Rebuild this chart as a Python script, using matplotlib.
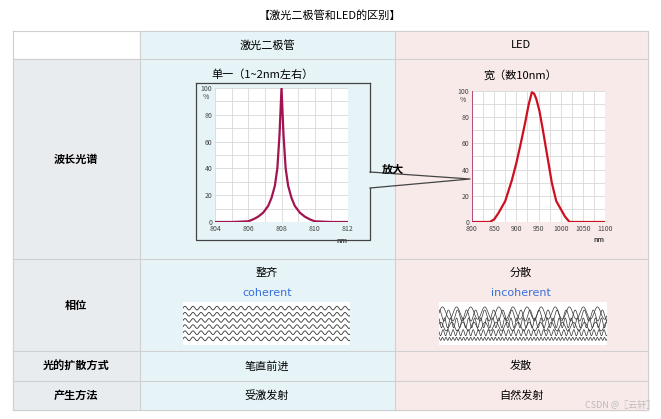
import numpy as np
import matplotlib.pyplot as plt
from matplotlib import font_manager as fm
from matplotlib.patches import Rectangle

# make sure a CJK font is registered
cjk = 'Noto Sans CJK SC'
for f in fm.findSystemFonts():
    if 'CJK' in f or 'cjk' in f.lower():
        try:
            fm.fontManager.addfont(f)
        except Exception:
            pass
names = {x.name for x in fm.fontManager.ttflist}
if cjk not in names:
    cands = [n for n in names if 'CJK' in n]
    if cands:
        cjk = sorted(cands)[0]
plt.rcParams['font.family'] = [cjk, 'DejaVu Sans']

# spectrum data
ld_nm = [804, 805, 806, 806.3, 806.6, 806.9, 807.2, 807.4, 807.6, 807.75, 807.88, 808,
         808.12, 808.25, 808.4, 808.6, 808.8, 809.1, 809.4, 809.7, 810, 811, 812]
ld_pct = [0, 0, 0.5, 2, 4, 7, 12, 18, 27, 40, 65, 100,
          65, 40, 27, 18, 12, 7, 4, 2, 0.5, 0, 0]
led_nm = [800, 840, 850, 860, 875, 890, 900, 910, 920, 928, 935, 940, 945, 952, 960,
          970, 980, 990, 1000, 1010, 1020, 1100]
led_pct = [0, 0, 2, 7, 16, 32, 45, 60, 76, 90, 99, 98, 94, 85, 70,
           50, 30, 16, 10, 4, 0, 0]
ld_ticks = [804, 806, 808, 810, 812]
led_ticks = [800, 850, 900, 950, 1000, 1050, 1100]
row_labels = ['波长光谱', '相位', '光的扩散方式', '产生方法']
ld_texts = ['笔直前进', '受激发射']
led_texts = ['发散', '自然发射']

W, H = 661, 419
fig = plt.figure(figsize=(W / 100, H / 100), dpi=100)
bg = fig.add_axes([0, 0, 1, 1])
bg.set_xlim(0, W)
bg.set_ylim(H, 0)
bg.axis('off')

def px_axes(x, y, w, h):
    return fig.add_axes([x / W, 1 - (y + h) / H, w / W, h / H])

# table
cols = [13, 140, 395, 648]
rows = [31, 59, 259, 351, 381, 410]
bg.add_patch(Rectangle((13, 59), 127, 351, color='#e9ecef'))
bg.add_patch(Rectangle((140, 31), 255, 379, color='#e6f4f8'))
bg.add_patch(Rectangle((395, 31), 253, 379, color='#f9eaea'))
for y in rows:
    bg.plot([13, 648], [y, y], color='#d0d0d0', lw=0.8)
for x in cols:
    bg.plot([x, x], [31, 410], color='#d0d0d0', lw=0.8)

bg.text(330, 15, '【激光二极管和LED的区别】', ha='center', va='center', fontsize=8)
bg.text(267, 45, '激光二极管', ha='center', va='center', fontsize=8)
bg.text(521, 45, 'LED', ha='center', va='center', fontsize=8)
for i, lab in enumerate(row_labels):
    yc = (rows[i + 1] + rows[i + 2]) / 2
    bg.text(76, yc, lab, ha='center', va='center', fontsize=8, fontweight='bold')
for i in range(2):
    yc = (rows[i + 3] + rows[i + 4]) / 2
    bg.text(267, yc, ld_texts[i], ha='center', va='center', fontsize=8)
    bg.text(521, yc, led_texts[i], ha='center', va='center', fontsize=8)

bg.text(262, 75, '单一（1~2nm左右）', ha='center', va='center', fontsize=8)
bg.text(520, 75, '宽（数10nm）', ha='center', va='center', fontsize=8)
bg.text(267, 273, '整齐', ha='center', va='center', fontsize=8)
bg.text(267, 293, 'coherent', ha='center', va='center', fontsize=8, color='#3a6fd8', family='DejaVu Sans')
bg.text(521, 273, '分散', ha='center', va='center', fontsize=8)
bg.text(521, 293, 'incoherent', ha='center', va='center', fontsize=8, color='#3a6fd8', family='DejaVu Sans')

# zoom frame and callout
fc = '#444444'
bg.plot([196, 370], [83, 83], color=fc, lw=0.9)
bg.plot([196, 196, 370, 370], [83, 240, 240, 188], color=fc, lw=0.9)
bg.plot([370, 370], [83, 172], color=fc, lw=0.9)
bg.plot([370, 470, 370], [172, 179, 188], color=fc, lw=0.9)
bg.text(393, 169, '放大', ha='center', va='center', fontsize=8, fontweight='bold')

def spectrum(ax, xs, ys, ticks, color):
    ax.set_facecolor('white')
    ax.plot(xs, ys, color=color, lw=1.6)
    ax.set_xlim(ticks[0], ticks[-1])
    ax.set_ylim(0, 100)
    ax.set_xticks(ticks)
    ax.set_yticks([0, 20, 40, 60, 80, 100])
    ax.set_xticks(np.linspace(ticks[0], ticks[-1], 2 * (len(ticks) - 1) + 1), minor=True)
    ax.set_yticks(np.arange(0, 101, 10), minor=True)
    ax.grid(True, which='both', color='#d8d8d8', lw=0.6)
    ax.tick_params(which='both', labelsize=5, length=0, pad=2, colors='#444444')
    for s in ax.spines.values():
        s.set_visible(False)
    ax.text(1.0, -0.11, 'nm', transform=ax.transAxes, fontsize=5, ha='right', va='top',
            fontweight='bold', color='#444444')
    ax.text(-0.09, 0.96, '%', transform=ax.transAxes, fontsize=5, ha='left', va='top', color='#444444')

a1 = px_axes(215, 88, 133, 134)
spectrum(a1, ld_nm, ld_pct, ld_ticks, '#a3134f')
a2 = px_axes(472, 91, 133, 131)
spectrum(a2, led_nm, led_pct, led_ticks, '#cc1020')
a2.plot([800.5, 800.5], [0, 100], color='#b0336a', lw=1.2)

# wave illustrations
wave_periods = [8, 8, 8, 8, 8, 8]
mixed_periods = [14, 9, 6, 11, 5, 3.5]
mixed_phases = [0, 1.3, 2.1, 0.6, 2.8, 1.7]
w1 = px_axes(183, 302, 167, 43)
w2 = px_axes(439, 302, 168, 43)
t = np.linspace(0, 167, 800)
for i, p in enumerate(wave_periods):
    w1.plot(t, 6 - i + 0.3 * np.sin(2 * np.pi * t / p), color='#333333', lw=0.6)
for i, (p, ph) in enumerate(zip(mixed_periods, mixed_phases)):
    base = [5.2, 4.8, 3.6, 3.0, 2.0, 1.0][i]
    amp = [1.0, 0.9, 0.8, 0.7, 0.5, 0.25][i]
    w2.plot(t, base + amp * np.sin(2 * np.pi * t / p + ph), color='#333333', lw=0.5)
for w in (w1, w2):
    w.set_xlim(0, 167)
    w.set_ylim(0, 7)
    w.set_xticks([])
    w.set_yticks([])
    for s in w.spines.values():
        s.set_visible(False)

bg.text(655, 405, 'CSDN @〖云轩〗', ha='right', va='center', fontsize=6.5, color='#bbbbbb')

fig.savefig('out.png', dpi=100)
